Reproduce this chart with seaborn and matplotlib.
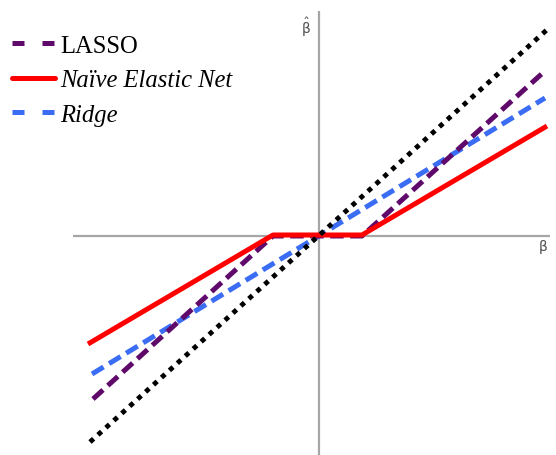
import matplotlib
matplotlib.use("Agg")
import matplotlib.pyplot as plt
from matplotlib.lines import Line2D
import seaborn as sns
import pandas as pd

# Data (beta on x, beta-hat on y)
identity_x = [-2.29, 2.31]
identity_y = [-2.06, 2.09]
lasso_x = [-2.26, -0.46, 0.43, 2.27]
lasso_y = [-1.63, 0.0, 0.0, 1.66]
enet_x = [-2.31, -0.46, 0.43, 2.28]
enet_y = [-1.08, 0.01, 0.01, 1.10]
ridge_x = [-2.27, 2.26]
ridge_y = [-1.38, 1.38]
labels = ["LASSO", "Naïve Elastic Net", "Ridge"]

purple = "#5f0a6b"
red = "#ff0000"
blue = "#3a6cf4"

sns.set_style("white")
fig = plt.figure(figsize=(5.56, 4.56), dpi=100)
ax = fig.add_axes([0, 0, 1, 1])
ax.set_xlim(-3.19, 2.37)
ax.set_ylim(-2.19, 2.37)
ax.axis("off")

# axes lines
ax.hlines(0, -2.46, 2.31, color="#a6a6a6", lw=1.6, zorder=1)
ax.vlines(0, -2.19, 2.25, color="#a6a6a6", lw=1.6, zorder=1)

def draw(x, y, color, lw, dashes, z):
    df = pd.DataFrame({"x": x, "y": y})
    sns.lineplot(data=df, x="x", y="y", ax=ax, color=color, lw=lw,
                 sort=False, estimator=None, legend=False)
    ln = ax.get_lines()[-1]
    if dashes is not None:
        ln.set_dashes(dashes)
        ln.set_dash_capstyle("butt")
    ln.set_solid_capstyle("butt")
    ln.set_zorder(z)
    return ln

draw(ridge_x, ridge_y, blue, 3.6, (2.7, 1.3), 3)
draw(lasso_x, lasso_y, purple, 3.6, (2.7, 1.3), 4)
draw(enet_x, enet_y, red, 3.6, None, 5)
draw(identity_x, identity_y, "black", 3.5, (1.0, 1.2), 6)

ax.set_xlabel("")
ax.set_ylabel("")
ax.axis("off")

ax.text(-0.13, 2.1, r"$\hat{\mathrm{\beta}}$", fontsize=10, color="#505050",
        ha="center", va="center")
ax.text(2.24, -0.1, r"$\mathrm{\beta}$", fontsize=10, color="#505050",
        ha="center", va="center")

handles = [
    Line2D([], [], color=purple, lw=3.6, dashes=(2.4, 3.6), dash_capstyle="butt"),
    Line2D([], [], color=red, lw=3.6),
    Line2D([], [], color=blue, lw=3.6, dashes=(2.4, 3.6), dash_capstyle="butt"),
]
leg = ax.legend(handles, labels, loc="upper left", bbox_to_anchor=(0.022, 0.922),
                frameon=False, handlelength=1.75, handletextpad=0.2,
                labelspacing=0.5, borderaxespad=0, borderpad=0,
                prop={"family": "Liberation Serif", "size": 17.7})
for i, t in enumerate(leg.get_texts()):
    t.set_color("black")
    if i > 0:
        t.set_style("italic")

fig.savefig("out.png", dpi=100)
